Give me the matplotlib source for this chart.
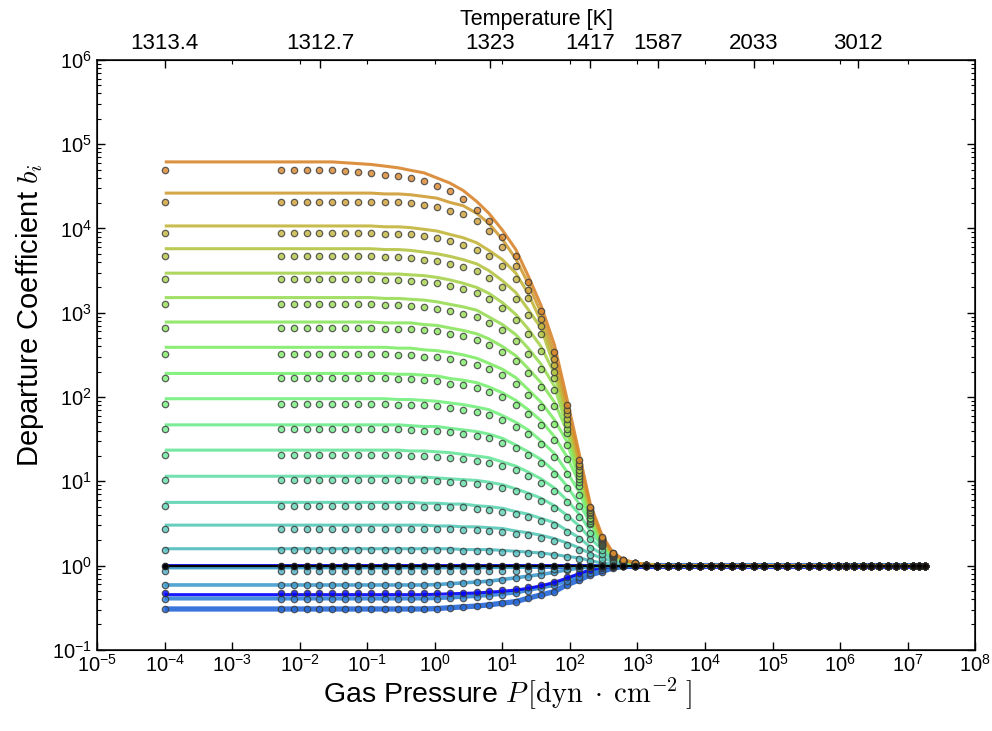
import numpy as np
import matplotlib
matplotlib.use("Agg")
import matplotlib.pyplot as plt
from matplotlib.ticker import (FixedLocator, NullLocator, LogLocator,
                               LogFormatterSciNotation, NullFormatter)

plt.rcParams['font.family'] = ['Liberation Sans', 'DejaVu Sans']
plt.rcParams['mathtext.fontset'] = 'cm'

# Depth grid of the model atmosphere: gas pressure in dyn cm^-2
pressure = [
    1.00e-4, 5.25e-3, 8.13e-3, 1.26e-2, 1.95e-2, 3.02e-2, 4.68e-2, 7.24e-2, 0.112, 0.182,
    0.288, 0.437, 0.692, 1.07, 1.66, 2.63, 4.17, 6.31, 10.0, 15.8,
    24.0, 37.2, 58.9, 89.1, 138.0, 200.0, 295.0, 427.0, 617.0, 912.0,
    1.35e3, 1.95e3, 2.82e3, 3.98e3, 5.89e3, 8.51e3, 1.23e4, 1.74e4, 2.51e4, 3.55e4,
    5.25e4, 7.59e4, 1.15e5, 1.62e5, 2.40e5, 3.47e5, 4.90e5, 6.76e5, 9.33e5, 1.23e6,
    1.62e6, 2.19e6, 2.88e6, 3.80e6, 5.13e6, 6.76e6, 8.91e6, 1.20e7, 1.45e7, 1.82e7,
]
# Pressure points of the fitted curves (first 32 depths plus the deepest one)
fit_pressure = [
    1.00e-4, 5.25e-3, 8.13e-3, 1.26e-2, 1.95e-2, 3.02e-2, 4.68e-2, 7.24e-2, 0.112, 0.182,
    0.288, 0.437, 0.692, 1.07, 1.66, 2.63, 4.17, 6.31, 10.0, 15.8,
    24.0, 37.2, 58.9, 89.1, 138.0, 200.0, 295.0, 427.0, 617.0, 912.0,
    1.35e3, 1.95e3, 1.82e7,
]

# Temperature labels of the upper axis and the pressures they sit at
temp_tick_pressure = [1.0e-4, 1.99e-2, 6.51, 201.0, 2.0e3, 5.24e4, 1.83e6]
temp_tick_labels = ["1313.4", "1312.7", "1323", "1417", "1587", "2033", "3012"]

# log10 departure coefficients, computed points (markers) per level
obs_01 = [4.69, 4.69, 4.69, 4.69, 4.69, 4.69, 4.68, 4.67, 4.66, 4.64,
          4.62, 4.60, 4.56, 4.50, 4.44, 4.35, 4.22, 4.09, 3.90, 3.67,
          3.37, 3.02, 2.53, 1.91, 1.25, 0.70, 0.34, 0.15, 0.07, 0.03,
          0.01, 0, 0, 0, 0, 0, 0, 0, 0, 0,
          0, 0, 0, 0, 0, 0, 0, 0, 0, 0,
          0, 0, 0, 0, 0, 0, 0, 0, 0, 0]
obs_02 = [4.32, 4.32, 4.32, 4.32, 4.32, 4.32, 4.32, 4.32, 4.32, 4.31,
          4.31, 4.30, 4.28, 4.26, 4.21, 4.17, 4.09, 3.97, 3.78, 3.56,
          3.27, 2.93, 2.45, 1.85, 1.21, 0.68, 0.33, 0.15, 0.07, 0.03,
          0.01, 0, 0, 0, 0, 0, 0, 0, 0, 0,
          0, 0, 0, 0, 0, 0, 0, 0, 0, 0,
          0, 0, 0, 0, 0, 0, 0, 0, 0, 0]
obs_03 = [3.95, 3.95, 3.95, 3.95, 3.95, 3.95, 3.95, 3.95, 3.95, 3.94,
          3.94, 3.93, 3.91, 3.89, 3.85, 3.81, 3.75, 3.67, 3.56, 3.40,
          3.17, 2.84, 2.38, 1.80, 1.18, 0.66, 0.32, 0.14, 0.07, 0.03,
          0.01, 0, 0, 0, 0, 0, 0, 0, 0, 0,
          0, 0, 0, 0, 0, 0, 0, 0, 0, 0,
          0, 0, 0, 0, 0, 0, 0, 0, 0, 0]
obs_04 = [3.67, 3.67, 3.67, 3.67, 3.67, 3.67, 3.67, 3.67, 3.67, 3.66,
          3.66, 3.65, 3.63, 3.61, 3.58, 3.54, 3.49, 3.41, 3.30, 3.16,
          2.97, 2.75, 2.30, 1.74, 1.14, 0.64, 0.31, 0.14, 0.06, 0.03,
          0.01, 0, 0, 0, 0, 0, 0, 0, 0, 0,
          0, 0, 0, 0, 0, 0, 0, 0, 0, 0,
          0, 0, 0, 0, 0, 0, 0, 0, 0, 0]
obs_05 = [3.40, 3.40, 3.40, 3.40, 3.40, 3.40, 3.40, 3.40, 3.40, 3.39,
          3.39, 3.38, 3.37, 3.35, 3.32, 3.28, 3.23, 3.16, 3.06, 2.92,
          2.75, 2.55, 2.23, 1.68, 1.10, 0.62, 0.30, 0.13, 0.06, 0.03,
          0.01, 0, 0, 0, 0, 0, 0, 0, 0, 0,
          0, 0, 0, 0, 0, 0, 0, 0, 0, 0,
          0, 0, 0, 0, 0, 0, 0, 0, 0, 0]
obs_06 = [3.10, 3.10, 3.10, 3.10, 3.10, 3.10, 3.10, 3.10, 3.10, 3.09,
          3.09, 3.08, 3.07, 3.05, 3.02, 2.99, 2.95, 2.88, 2.79, 2.67,
          2.51, 2.33, 2.08, 1.62, 1.06, 0.60, 0.29, 0.13, 0.06, 0.03,
          0.01, 0, 0, 0, 0, 0, 0, 0, 0, 0,
          0, 0, 0, 0, 0, 0, 0, 0, 0, 0,
          0, 0, 0, 0, 0, 0, 0, 0, 0, 0]
obs_07 = [2.82, 2.82, 2.82, 2.82, 2.82, 2.82, 2.82, 2.82, 2.82, 2.81,
          2.81, 2.81, 2.79, 2.78, 2.75, 2.72, 2.68, 2.62, 2.54, 2.43,
          2.28, 2.12, 1.89, 1.57, 1.03, 0.57, 0.28, 0.12, 0.06, 0.02,
          0.01, 0, 0, 0, 0, 0, 0, 0, 0, 0,
          0, 0, 0, 0, 0, 0, 0, 0, 0, 0,
          0, 0, 0, 0, 0, 0, 0, 0, 0, 0]
obs_08 = [2.51, 2.51, 2.51, 2.51, 2.51, 2.51, 2.51, 2.51, 2.51, 2.51,
          2.50, 2.50, 2.48, 2.47, 2.45, 2.42, 2.38, 2.33, 2.26, 2.16,
          2.03, 1.88, 1.68, 1.43, 0.99, 0.55, 0.27, 0.12, 0.055, 0.024,
          0.008, 0, 0, 0, 0, 0, 0, 0, 0, 0,
          0, 0, 0, 0, 0, 0, 0, 0, 0, 0,
          0, 0, 0, 0, 0, 0, 0, 0, 0, 0]
obs_09 = [2.22, 2.22, 2.22, 2.22, 2.22, 2.22, 2.22, 2.22, 2.22, 2.22,
          2.21, 2.21, 2.20, 2.19, 2.16, 2.14, 2.11, 2.06, 2.00, 1.91,
          1.80, 1.67, 1.49, 1.27, 0.95, 0.53, 0.26, 0.11, 0.05, 0.02,
          0.01, 0, 0, 0, 0, 0, 0, 0, 0, 0,
          0, 0, 0, 0, 0, 0, 0, 0, 0, 0,
          0, 0, 0, 0, 0, 0, 0, 0, 0, 0]
obs_10 = [1.92, 1.92, 1.92, 1.92, 1.92, 1.92, 1.92, 1.92, 1.92, 1.92,
          1.91, 1.91, 1.90, 1.89, 1.87, 1.85, 1.82, 1.79, 1.73, 1.65,
          1.56, 1.44, 1.29, 1.09, 0.84, 0.51, 0.25, 0.11, 0.05, 0.02,
          0.01, 0, 0, 0, 0, 0, 0, 0, 0, 0,
          0, 0, 0, 0, 0, 0, 0, 0, 0, 0,
          0, 0, 0, 0, 0, 0, 0, 0, 0, 0]
obs_11 = [1.62, 1.62, 1.62, 1.62, 1.62, 1.62, 1.62, 1.62, 1.62, 1.62,
          1.62, 1.61, 1.60, 1.60, 1.58, 1.56, 1.54, 1.51, 1.46, 1.39,
          1.31, 1.22, 1.09, 0.92, 0.71, 0.49, 0.24, 0.105, 0.05, 0.02,
          0.01, 0, 0, 0, 0, 0, 0, 0, 0, 0,
          0, 0, 0, 0, 0, 0, 0, 0, 0, 0,
          0, 0, 0, 0, 0, 0, 0, 0, 0, 0]
obs_12 = [1.31, 1.31, 1.31, 1.31, 1.31, 1.31, 1.31, 1.31, 1.31, 1.31,
          1.31, 1.30, 1.30, 1.29, 1.28, 1.26, 1.24, 1.22, 1.18, 1.13,
          1.06, 0.98, 0.88, 0.75, 0.58, 0.39, 0.23, 0.10, 0.05, 0.02,
          0.01, 0, 0, 0, 0, 0, 0, 0, 0, 0,
          0, 0, 0, 0, 0, 0, 0, 0, 0, 0,
          0, 0, 0, 0, 0, 0, 0, 0, 0, 0]
obs_13 = [1.02, 1.02, 1.02, 1.02, 1.02, 1.02, 1.02, 1.02, 1.02, 1.02,
          1.02, 1.01, 1.01, 1.00, 0.99, 0.98, 0.97, 0.95, 0.92, 0.88,
          0.83, 0.77, 0.68, 0.58, 0.45, 0.31, 0.19, 0.10, 0.045, 0.02,
          0.01, 0, 0, 0, 0, 0, 0, 0, 0, 0,
          0, 0, 0, 0, 0, 0, 0, 0, 0, 0,
          0, 0, 0, 0, 0, 0, 0, 0, 0, 0]
obs_14 = [0.71, 0.71, 0.71, 0.71, 0.71, 0.71, 0.71, 0.71, 0.71, 0.71,
          0.71, 0.71, 0.70, 0.70, 0.69, 0.69, 0.67, 0.66, 0.64, 0.61,
          0.58, 0.53, 0.48, 0.40, 0.31, 0.21, 0.135, 0.08, 0.04, 0.02,
          0.01, 0, 0, 0, 0, 0, 0, 0, 0, 0,
          0, 0, 0, 0, 0, 0, 0, 0, 0, 0,
          0, 0, 0, 0, 0, 0, 0, 0, 0, 0]
obs_15 = [0.44, 0.44, 0.44, 0.44, 0.44, 0.44, 0.44, 0.44, 0.44, 0.44,
          0.44, 0.44, 0.44, 0.43, 0.43, 0.42, 0.42, 0.41, 0.40, 0.38,
          0.36, 0.33, 0.29, 0.25, 0.19, 0.13, 0.08, 0.05, 0.02, 0.01,
          0, 0, 0, 0, 0, 0, 0, 0, 0, 0,
          0, 0, 0, 0, 0, 0, 0, 0, 0, 0,
          0, 0, 0, 0, 0, 0, 0, 0, 0, 0]
obs_16 = [0.18, 0.18, 0.18, 0.18, 0.18, 0.18, 0.18, 0.18, 0.18, 0.18,
          0.18, 0.18, 0.18, 0.18, 0.18, 0.17, 0.17, 0.17, 0.16, 0.15,
          0.15, 0.14, 0.12, 0.10, 0.08, 0.05, 0.03, 0.02, 0.01, 0,
          0, 0, 0, 0, 0, 0, 0, 0, 0, 0,
          0, 0, 0, 0, 0, 0, 0, 0, 0, 0,
          0, 0, 0, 0, 0, 0, 0, 0, 0, 0]
obs_17 = [-0.07, -0.07, -0.07, -0.07, -0.07, -0.07, -0.07, -0.07, -0.07, -0.07,
          -0.07, -0.07, -0.07, -0.07, -0.07, -0.07, -0.07, -0.065, -0.063, -0.06,
          -0.057, -0.05, -0.045, -0.04, -0.03, -0.02, -0.013, -0.008, -0.004, 0,
          0, 0, 0, 0, 0, 0, 0, 0, 0, 0,
          0, 0, 0, 0, 0, 0, 0, 0, 0, 0,
          0, 0, 0, 0, 0, 0, 0, 0, 0, 0]
obs_18 = [-0.235, -0.235, -0.235, -0.235, -0.235, -0.235, -0.235, -0.235, -0.235, -0.235,
          -0.235, -0.235, -0.235, -0.23, -0.22, -0.21, -0.20, -0.19, -0.17, -0.15,
          -0.13, -0.11, -0.08, -0.05, -0.03, -0.015, -0.007, 0, 0, 0,
          0, 0, 0, 0, 0, 0, 0, 0, 0, 0,
          0, 0, 0, 0, 0, 0, 0, 0, 0, 0,
          0, 0, 0, 0, 0, 0, 0, 0, 0, 0]
obs_19 = [-0.33, -0.33, -0.33, -0.33, -0.33, -0.33, -0.33, -0.33, -0.33, -0.33,
          -0.33, -0.33, -0.33, -0.325, -0.32, -0.32, -0.31, -0.30, -0.29, -0.28,
          -0.26, -0.23, -0.19, -0.14, -0.09, -0.05, -0.025, -0.01, 0, 0,
          0, 0, 0, 0, 0, 0, 0, 0, 0, 0,
          0, 0, 0, 0, 0, 0, 0, 0, 0, 0,
          0, 0, 0, 0, 0, 0, 0, 0, 0, 0]
obs_20 = [-0.40, -0.40, -0.40, -0.40, -0.40, -0.40, -0.40, -0.40, -0.40, -0.40,
          -0.40, -0.40, -0.40, -0.395, -0.39, -0.38, -0.37, -0.36, -0.345, -0.33,
          -0.30, -0.27, -0.235, -0.18, -0.13, -0.085, -0.05, -0.02, -0.01, 0,
          0, 0, 0, 0, 0, 0, 0, 0, 0, 0,
          0, 0, 0, 0, 0, 0, 0, 0, 0, 0,
          0, 0, 0, 0, 0, 0, 0, 0, 0, 0]
obs_21 = [-0.515, -0.515, -0.515, -0.515, -0.515, -0.515, -0.515, -0.515, -0.515, -0.515,
          -0.515, -0.515, -0.515, -0.51, -0.50, -0.49, -0.48, -0.466, -0.446, -0.427,
          -0.387, -0.348, -0.308, -0.229, -0.17, -0.11, -0.071, -0.03, -0.01, 0,
          0, 0, 0, 0, 0, 0, 0, 0, 0, 0,
          0, 0, 0, 0, 0, 0, 0, 0, 0, 0,
          0, 0, 0, 0, 0, 0, 0, 0, 0, 0]
obs_ground = [0, 0, 0, 0, 0, 0, 0, 0, 0, 0,
              0, 0, 0, 0, 0, 0, 0, 0, 0, 0,
              0, 0, 0, 0, 0, 0, 0, 0, 0, 0,
              0, 0, 0, 0, 0, 0, 0, 0, 0, 0,
              0, 0, 0, 0, 0, 0, 0, 0, 0, 0,
              0, 0, 0, 0, 0, 0, 0, 0, 0, 0]

# log10 departure coefficients of the fitted curves (lines) per level
fit_01 = [4.79, 4.79, 4.79, 4.79, 4.79, 4.79, 4.78, 4.77, 4.76, 4.74,
          4.72, 4.69, 4.66, 4.60, 4.54, 4.45, 4.32, 4.18, 3.98, 3.75,
          3.44, 3.09, 2.62, 2.00, 1.32, 0.73, 0.37, 0.16, 0.075, 0.03,
          0.01, 0, 0]
fit_02 = [4.42, 4.42, 4.42, 4.42, 4.42, 4.42, 4.42, 4.42, 4.42, 4.41,
          4.41, 4.40, 4.38, 4.36, 4.31, 4.27, 4.18, 4.06, 3.87, 3.64,
          3.35, 3.00, 2.51, 1.90, 1.24, 0.70, 0.34, 0.15, 0.07, 0.03,
          0.01, 0, 0]
fit_03 = [4.03, 4.03, 4.03, 4.03, 4.03, 4.03, 4.03, 4.03, 4.03, 4.02,
          4.02, 4.01, 3.99, 3.97, 3.93, 3.89, 3.83, 3.74, 3.63, 3.47,
          3.23, 2.90, 2.43, 1.84, 1.20, 0.67, 0.33, 0.14, 0.07, 0.03,
          0.01, 0, 0]
fit_04 = [3.76, 3.76, 3.76, 3.76, 3.76, 3.76, 3.76, 3.76, 3.76, 3.75,
          3.75, 3.74, 3.72, 3.70, 3.67, 3.63, 3.58, 3.50, 3.38, 3.24,
          3.04, 2.82, 2.36, 1.78, 1.17, 0.66, 0.32, 0.14, 0.06, 0.03,
          0.01, 0, 0]
fit_05 = [3.47, 3.47, 3.47, 3.47, 3.47, 3.47, 3.47, 3.47, 3.47, 3.46,
          3.46, 3.45, 3.44, 3.42, 3.39, 3.35, 3.30, 3.23, 3.12, 2.98,
          2.81, 2.60, 2.28, 1.72, 1.12, 0.63, 0.31, 0.13, 0.06, 0.03,
          0.01, 0, 0]
fit_06 = [3.18, 3.18, 3.18, 3.18, 3.18, 3.18, 3.18, 3.18, 3.18, 3.17,
          3.17, 3.16, 3.15, 3.13, 3.10, 3.07, 3.03, 2.95, 2.86, 2.74,
          2.58, 2.39, 2.13, 1.66, 1.09, 0.62, 0.30, 0.13, 0.06, 0.03,
          0.01, 0, 0]
fit_07 = [2.89, 2.89, 2.89, 2.89, 2.89, 2.89, 2.89, 2.89, 2.89, 2.88,
          2.88, 2.88, 2.86, 2.85, 2.82, 2.79, 2.75, 2.69, 2.60, 2.49,
          2.34, 2.17, 1.94, 1.61, 1.06, 0.58, 0.29, 0.12, 0.06, 0.02,
          0.01, 0, 0]
fit_08 = [2.59, 2.59, 2.59, 2.59, 2.59, 2.59, 2.59, 2.59, 2.59, 2.59,
          2.58, 2.58, 2.56, 2.55, 2.53, 2.50, 2.46, 2.40, 2.33, 2.23,
          2.09, 1.94, 1.73, 1.48, 1.02, 0.57, 0.28, 0.12, 0.06, 0.025,
          0.008, 0, 0]
fit_09 = [2.28, 2.28, 2.28, 2.28, 2.28, 2.28, 2.28, 2.28, 2.28, 2.28,
          2.27, 2.27, 2.26, 2.25, 2.22, 2.20, 2.17, 2.12, 2.05, 1.96,
          1.85, 1.72, 1.53, 1.30, 0.98, 0.54, 0.27, 0.11, 0.05, 0.02,
          0.01, 0, 0]
fit_10 = [1.98, 1.98, 1.98, 1.98, 1.98, 1.98, 1.98, 1.98, 1.98, 1.98,
          1.97, 1.97, 1.96, 1.95, 1.93, 1.91, 1.88, 1.85, 1.78, 1.70,
          1.61, 1.48, 1.33, 1.12, 0.87, 0.53, 0.26, 0.11, 0.05, 0.02,
          0.01, 0, 0]
fit_11 = [1.67, 1.67, 1.67, 1.67, 1.67, 1.67, 1.67, 1.67, 1.67, 1.67,
          1.67, 1.66, 1.65, 1.65, 1.63, 1.61, 1.59, 1.56, 1.51, 1.43,
          1.35, 1.26, 1.12, 0.95, 0.73, 0.51, 0.25, 0.11, 0.05, 0.02,
          0.01, 0, 0]
fit_12 = [1.37, 1.37, 1.37, 1.37, 1.37, 1.37, 1.37, 1.37, 1.37, 1.37,
          1.37, 1.36, 1.36, 1.35, 1.34, 1.32, 1.30, 1.28, 1.23, 1.18,
          1.11, 1.03, 0.92, 0.78, 0.61, 0.41, 0.24, 0.10, 0.05, 0.02,
          0.01, 0, 0]
fit_13 = [1.06, 1.06, 1.06, 1.06, 1.06, 1.06, 1.06, 1.06, 1.06, 1.06,
          1.06, 1.05, 1.05, 1.04, 1.03, 1.02, 1.01, 0.99, 0.96, 0.91,
          0.86, 0.80, 0.71, 0.60, 0.47, 0.32, 0.20, 0.10, 0.047, 0.02,
          0.01, 0, 0]
fit_14 = [0.75, 0.75, 0.75, 0.75, 0.75, 0.75, 0.75, 0.75, 0.75, 0.75,
          0.75, 0.75, 0.74, 0.74, 0.73, 0.73, 0.71, 0.70, 0.68, 0.64,
          0.61, 0.56, 0.51, 0.42, 0.33, 0.22, 0.14, 0.08, 0.04, 0.02,
          0.01, 0, 0]
fit_15 = [0.48, 0.48, 0.48, 0.48, 0.48, 0.48, 0.48, 0.48, 0.48, 0.48,
          0.48, 0.48, 0.48, 0.47, 0.47, 0.46, 0.46, 0.45, 0.44, 0.41,
          0.39, 0.36, 0.32, 0.27, 0.21, 0.14, 0.09, 0.05, 0.02, 0.01,
          0, 0, 0]
fit_16 = [0.20, 0.20, 0.20, 0.20, 0.20, 0.20, 0.20, 0.20, 0.20, 0.20,
          0.20, 0.20, 0.20, 0.20, 0.20, 0.19, 0.19, 0.19, 0.18, 0.17,
          0.16, 0.15, 0.13, 0.11, 0.09, 0.06, 0.03, 0.02, 0.01, 0,
          0, 0, 0]
fit_17 = [-0.03, -0.03, -0.03, -0.03, -0.03, -0.03, -0.03, -0.03, -0.03, -0.03,
          -0.03, -0.03, -0.03, -0.03, -0.03, -0.03, -0.03, -0.028, -0.027, -0.026,
          -0.024, -0.021, -0.019, -0.017, -0.013, -0.009, -0.006, -0.003, -0.002, 0,
          0, 0, 0]
fit_18 = [-0.23, -0.23, -0.23, -0.23, -0.23, -0.23, -0.23, -0.23, -0.23, -0.23,
          -0.23, -0.23, -0.23, -0.225, -0.215, -0.205, -0.195, -0.185, -0.165, -0.145,
          -0.125, -0.105, -0.08, -0.05, -0.03, -0.015, -0.007, 0, 0, 0,
          0, 0, 0]
fit_19 = [-0.345, -0.345, -0.345, -0.345, -0.345, -0.345, -0.345, -0.345, -0.345, -0.345,
          -0.345, -0.345, -0.345, -0.34, -0.335, -0.33, -0.325, -0.315, -0.305, -0.29,
          -0.27, -0.24, -0.20, -0.15, -0.095, -0.05, -0.025, -0.01, 0, 0,
          0, 0, 0]
fit_20 = [-0.39, -0.39, -0.39, -0.39, -0.39, -0.39, -0.39, -0.39, -0.39, -0.39,
          -0.39, -0.39, -0.39, -0.385, -0.38, -0.37, -0.36, -0.35, -0.335, -0.32,
          -0.29, -0.26, -0.23, -0.175, -0.125, -0.08, -0.05, -0.02, -0.01, 0,
          0, 0, 0]
fit_21 = [-0.515, -0.515, -0.515, -0.515, -0.515, -0.515, -0.515, -0.515, -0.515, -0.515,
          -0.515, -0.515, -0.515, -0.51, -0.50, -0.49, -0.48, -0.466, -0.446, -0.427,
          -0.387, -0.348, -0.308, -0.229, -0.17, -0.11, -0.071, -0.03, -0.01, 0,
          0, 0, 0]
fit_ground = [0, 0, 0, 0, 0, 0, 0, 0, 0, 0,
              0, 0, 0, 0, 0, 0, 0, 0, 0, 0,
              0, 0, 0, 0, 0, 0, 0, 0, 0, 0,
              0, 0, 0]

obs_levels = [obs_01, obs_02, obs_03, obs_04, obs_05, obs_06, obs_07,
              obs_08, obs_09, obs_10, obs_11, obs_12, obs_13, obs_14,
              obs_15, obs_16, obs_17, obs_18, obs_19, obs_20, obs_21]
fit_levels = [fit_01, fit_02, fit_03, fit_04, fit_05, fit_06, fit_07,
              fit_08, fit_09, fit_10, fit_11, fit_12, fit_13, fit_14,
              fit_15, fit_16, fit_17, fit_18, fit_19, fit_20, fit_21]

level_colors = ['#d8852c', '#cf9e35', '#c3b53c', '#b5c444', '#a6d24c', '#98dc55',
                '#8ae55e', '#80ec68', '#7af072', '#74f07e', '#6eec8c', '#68e69a',
                '#62dea8', '#5cd4b2', '#56c8b8', '#50bcbe', '#4aaec4', '#3f9ccc',
                '#0000ff', '#2f82d8', '#2466d8']
level_widths = [2.2] * 16 + [2.0, 2.6, 2.2, 3.0, 3.8]

fig = plt.figure(figsize=(9.92, 7.31), dpi=100)
ax = fig.add_axes([0.098, 0.111, 0.885, 0.807])

P = np.array(pressure)
Pfit = np.array(fit_pressure)

# reference ground-state line (wide blue) underneath everything
ax.plot(Pfit, 10 ** np.array(fit_ground), color='#0000ff', lw=3.4, zorder=1)

# fitted curves, deepest levels first so the upper ones lie on top
for k in range(len(fit_levels) - 1, -1, -1):
    ax.plot(Pfit, 10 ** np.array(fit_levels[k]), color=level_colors[k],
            lw=level_widths[k], alpha=0.9, zorder=2, solid_capstyle='butt')

# computed departure coefficients
for k in range(len(obs_levels) - 1, -1, -1):
    ax.plot(P, 10 ** np.array(obs_levels[k]), 'o', ms=4.6,
            mfc=level_colors[k], mec='#3a3a3a', mew=0.9, alpha=0.8, zorder=3)

ax.plot(Pfit, 10 ** np.array(fit_ground), color='black', lw=1.6, zorder=4)
ax.plot(P, 10 ** np.array(obs_ground), 'o', ms=4.6, mfc='black', mec='#222222',
        mew=0.9, alpha=0.9, zorder=5)

ax.set_xscale('log')
ax.set_yscale('log')
ax.set_xlim(1e-5, 1e8)
ax.set_ylim(1e-1, 1e6)
ax.xaxis.set_major_locator(FixedLocator([10.0 ** e for e in range(-5, 9)]))
ax.xaxis.set_major_formatter(LogFormatterSciNotation())
ax.xaxis.set_minor_locator(NullLocator())
ax.yaxis.set_major_locator(LogLocator(base=10, numticks=20))
ax.yaxis.set_minor_locator(LogLocator(base=10, subs=np.arange(2, 10), numticks=20))
ax.yaxis.set_minor_formatter(NullFormatter())
ax.tick_params(which='both', direction='in', top=False, right=True,
               labelsize=14.5, pad=4)
ax.tick_params(axis='x', which='major', pad=3)
ax.tick_params(which='major', length=6, width=1)
ax.tick_params(which='minor', length=3, width=0.8)
for s in ax.spines.values():
    s.set_linewidth(1.1)

ax.set_xlabel(r'Gas Pressure $P\,[\mathrm{dyn}\;\cdot\;\mathrm{cm}^{-2}\;]$', fontsize=20.5)
ax.xaxis.set_label_coords(0.467, -0.045)
ax.set_ylabel(r'Departure Coefficient $b_i$', fontsize=21)
ax.yaxis.set_label_coords(-0.058, 0.568)

# temperature axis on top
ax2 = ax.twiny()
ax2.set_xscale('log')
ax2.set_xlim(ax.get_xlim())
ax2.xaxis.set_major_locator(FixedLocator(temp_tick_pressure))
ax2.set_xticklabels(temp_tick_labels)
ax2.xaxis.set_minor_locator(FixedLocator([10.0 ** e for e in range(-4, 8)]))
ax2.xaxis.set_minor_formatter(NullFormatter())
ax2.tick_params(which='major', direction='in', length=6, width=1, labelsize=16, pad=4)
ax2.tick_params(which='minor', direction='in', length=3, width=0.8)
ax2.set_xlabel('Temperature [K]', fontsize=15.5, labelpad=6)

fig.savefig('out.png', dpi=100)
